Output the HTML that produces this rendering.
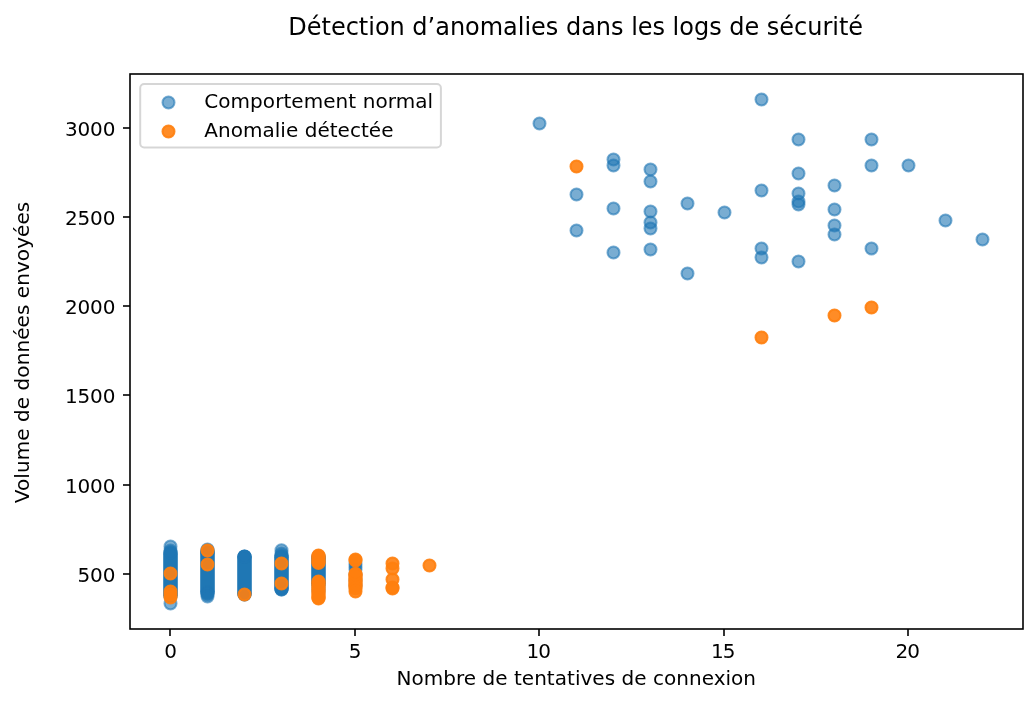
<!DOCTYPE html>
<html lang="fr"><head><meta charset="utf-8"><title>Détection d’anomalies dans les logs de sécurité</title>
<style>
html,body{margin:0;padding:0;background:#fff;}
body{width:1036px;height:725px;overflow:hidden;}
svg{display:block;}
text{font-family:"DejaVu Sans", "Liberation Sans", sans-serif;fill:#000;}
</style></head><body>
<svg width="1036" height="725" viewBox="0 0 1036 725">
<rect width="1036" height="725" fill="#fff"/>
<g id="normal">
<rect x="163.20" y="546.70" width="14.6" height="56.10" rx="7.3" fill="#1f77b4"/>
<rect x="200.20" y="546.20" width="14.6" height="52.60" rx="7.3" fill="#1f77b4"/>
<rect x="237.20" y="549.70" width="14.6" height="51.10" rx="7.3" fill="#1f77b4"/>
<rect x="274.20" y="550.20" width="14.6" height="45.60" rx="7.3" fill="#1f77b4"/>
<rect x="311.20" y="551.20" width="14.6" height="39.60" rx="7.3" fill="#1f77b4"/>
<circle cx="170.50" cy="546.50" r="6" fill="#1f77b4" fill-opacity="0.6" stroke="#1f77b4" stroke-opacity="0.6" stroke-width="2"/>
<circle cx="170.50" cy="550.50" r="6" fill="#1f77b4" fill-opacity="0.6" stroke="#1f77b4" stroke-opacity="0.6" stroke-width="2"/>
<circle cx="170.50" cy="552.50" r="6" fill="#1f77b4" fill-opacity="0.6" stroke="#1f77b4" stroke-opacity="0.6" stroke-width="2"/>
<circle cx="170.50" cy="552.50" r="6" fill="#1f77b4" fill-opacity="0.6" stroke="#1f77b4" stroke-opacity="0.6" stroke-width="2"/>
<circle cx="170.50" cy="603.50" r="6" fill="#1f77b4" fill-opacity="0.6" stroke="#1f77b4" stroke-opacity="0.6" stroke-width="2"/>
<circle cx="207.50" cy="549.50" r="6" fill="#1f77b4" fill-opacity="0.6" stroke="#1f77b4" stroke-opacity="0.6" stroke-width="2"/>
<circle cx="207.50" cy="550.50" r="6" fill="#1f77b4" fill-opacity="0.6" stroke="#1f77b4" stroke-opacity="0.6" stroke-width="2"/>
<circle cx="207.50" cy="551.50" r="6" fill="#1f77b4" fill-opacity="0.6" stroke="#1f77b4" stroke-opacity="0.6" stroke-width="2"/>
<circle cx="207.50" cy="552.50" r="6" fill="#1f77b4" fill-opacity="0.6" stroke="#1f77b4" stroke-opacity="0.6" stroke-width="2"/>
<circle cx="207.50" cy="552.50" r="6" fill="#1f77b4" fill-opacity="0.6" stroke="#1f77b4" stroke-opacity="0.6" stroke-width="2"/>
<circle cx="207.50" cy="592.50" r="6" fill="#1f77b4" fill-opacity="0.6" stroke="#1f77b4" stroke-opacity="0.6" stroke-width="2"/>
<circle cx="207.50" cy="593.50" r="6" fill="#1f77b4" fill-opacity="0.6" stroke="#1f77b4" stroke-opacity="0.6" stroke-width="2"/>
<circle cx="207.50" cy="594.50" r="6" fill="#1f77b4" fill-opacity="0.6" stroke="#1f77b4" stroke-opacity="0.6" stroke-width="2"/>
<circle cx="207.50" cy="596.50" r="6" fill="#1f77b4" fill-opacity="0.6" stroke="#1f77b4" stroke-opacity="0.6" stroke-width="2"/>
<circle cx="244.50" cy="556.50" r="6" fill="#1f77b4" fill-opacity="0.6" stroke="#1f77b4" stroke-opacity="0.6" stroke-width="2"/>
<circle cx="244.50" cy="556.50" r="6" fill="#1f77b4" fill-opacity="0.6" stroke="#1f77b4" stroke-opacity="0.6" stroke-width="2"/>
<circle cx="244.50" cy="557.00" r="6" fill="#1f77b4" fill-opacity="0.6" stroke="#1f77b4" stroke-opacity="0.6" stroke-width="2"/>
<circle cx="244.50" cy="594.50" r="6" fill="#1f77b4" fill-opacity="0.6" stroke="#1f77b4" stroke-opacity="0.6" stroke-width="2"/>
<circle cx="244.50" cy="594.50" r="6" fill="#1f77b4" fill-opacity="0.6" stroke="#1f77b4" stroke-opacity="0.6" stroke-width="2"/>
<circle cx="281.50" cy="550.20" r="6" fill="#1f77b4" fill-opacity="0.6" stroke="#1f77b4" stroke-opacity="0.6" stroke-width="2"/>
<circle cx="281.50" cy="553.50" r="6" fill="#1f77b4" fill-opacity="0.6" stroke="#1f77b4" stroke-opacity="0.6" stroke-width="2"/>
<circle cx="281.50" cy="555.50" r="6" fill="#1f77b4" fill-opacity="0.6" stroke="#1f77b4" stroke-opacity="0.6" stroke-width="2"/>
<circle cx="281.50" cy="556.50" r="6" fill="#1f77b4" fill-opacity="0.6" stroke="#1f77b4" stroke-opacity="0.6" stroke-width="2"/>
<circle cx="281.50" cy="589.50" r="6" fill="#1f77b4" fill-opacity="0.6" stroke="#1f77b4" stroke-opacity="0.6" stroke-width="2"/>
<circle cx="281.50" cy="589.50" r="6" fill="#1f77b4" fill-opacity="0.6" stroke="#1f77b4" stroke-opacity="0.6" stroke-width="2"/>
<circle cx="318.50" cy="556.50" r="6" fill="#1f77b4" fill-opacity="0.6" stroke="#1f77b4" stroke-opacity="0.6" stroke-width="2"/>
<circle cx="318.50" cy="557.50" r="6" fill="#1f77b4" fill-opacity="0.6" stroke="#1f77b4" stroke-opacity="0.6" stroke-width="2"/>
<circle cx="318.50" cy="585.50" r="6" fill="#1f77b4" fill-opacity="0.6" stroke="#1f77b4" stroke-opacity="0.6" stroke-width="2"/>
<circle cx="318.50" cy="587.50" r="6" fill="#1f77b4" fill-opacity="0.6" stroke="#1f77b4" stroke-opacity="0.6" stroke-width="2"/>
<circle cx="318.50" cy="589.50" r="6" fill="#1f77b4" fill-opacity="0.6" stroke="#1f77b4" stroke-opacity="0.6" stroke-width="2"/>
<circle cx="318.50" cy="591.50" r="6" fill="#1f77b4" fill-opacity="0.6" stroke="#1f77b4" stroke-opacity="0.6" stroke-width="2"/>
<circle cx="355.50" cy="563.50" r="6" fill="#1f77b4" fill-opacity="0.6" stroke="#1f77b4" stroke-opacity="0.6" stroke-width="2"/>
<circle cx="355.50" cy="566.50" r="6" fill="#1f77b4" fill-opacity="0.6" stroke="#1f77b4" stroke-opacity="0.6" stroke-width="2"/>
<circle cx="355.50" cy="569.50" r="6" fill="#1f77b4" fill-opacity="0.6" stroke="#1f77b4" stroke-opacity="0.6" stroke-width="2"/>
<circle cx="355.50" cy="574.50" r="6" fill="#1f77b4" fill-opacity="0.6" stroke="#1f77b4" stroke-opacity="0.6" stroke-width="2"/>
<circle cx="355.50" cy="580.50" r="6" fill="#1f77b4" fill-opacity="0.6" stroke="#1f77b4" stroke-opacity="0.6" stroke-width="2"/>
<circle cx="355.50" cy="585.50" r="6" fill="#1f77b4" fill-opacity="0.6" stroke="#1f77b4" stroke-opacity="0.6" stroke-width="2"/>
<circle cx="539.50" cy="123.50" r="6" fill="#1f77b4" fill-opacity="0.6" stroke="#1f77b4" stroke-opacity="0.6" stroke-width="2"/>
<circle cx="576.50" cy="194.50" r="6" fill="#1f77b4" fill-opacity="0.6" stroke="#1f77b4" stroke-opacity="0.6" stroke-width="2"/>
<circle cx="576.50" cy="230.50" r="6" fill="#1f77b4" fill-opacity="0.6" stroke="#1f77b4" stroke-opacity="0.6" stroke-width="2"/>
<circle cx="613.50" cy="159.50" r="6" fill="#1f77b4" fill-opacity="0.6" stroke="#1f77b4" stroke-opacity="0.6" stroke-width="2"/>
<circle cx="613.50" cy="165.50" r="6" fill="#1f77b4" fill-opacity="0.6" stroke="#1f77b4" stroke-opacity="0.6" stroke-width="2"/>
<circle cx="613.50" cy="208.50" r="6" fill="#1f77b4" fill-opacity="0.6" stroke="#1f77b4" stroke-opacity="0.6" stroke-width="2"/>
<circle cx="613.50" cy="252.50" r="6" fill="#1f77b4" fill-opacity="0.6" stroke="#1f77b4" stroke-opacity="0.6" stroke-width="2"/>
<circle cx="650.50" cy="169.50" r="6" fill="#1f77b4" fill-opacity="0.6" stroke="#1f77b4" stroke-opacity="0.6" stroke-width="2"/>
<circle cx="650.50" cy="181.50" r="6" fill="#1f77b4" fill-opacity="0.6" stroke="#1f77b4" stroke-opacity="0.6" stroke-width="2"/>
<circle cx="650.50" cy="211.50" r="6" fill="#1f77b4" fill-opacity="0.6" stroke="#1f77b4" stroke-opacity="0.6" stroke-width="2"/>
<circle cx="650.50" cy="222.50" r="6" fill="#1f77b4" fill-opacity="0.6" stroke="#1f77b4" stroke-opacity="0.6" stroke-width="2"/>
<circle cx="650.50" cy="228.50" r="6" fill="#1f77b4" fill-opacity="0.6" stroke="#1f77b4" stroke-opacity="0.6" stroke-width="2"/>
<circle cx="650.50" cy="249.50" r="6" fill="#1f77b4" fill-opacity="0.6" stroke="#1f77b4" stroke-opacity="0.6" stroke-width="2"/>
<circle cx="687.50" cy="203.50" r="6" fill="#1f77b4" fill-opacity="0.6" stroke="#1f77b4" stroke-opacity="0.6" stroke-width="2"/>
<circle cx="687.50" cy="273.50" r="6" fill="#1f77b4" fill-opacity="0.6" stroke="#1f77b4" stroke-opacity="0.6" stroke-width="2"/>
<circle cx="724.50" cy="212.50" r="6" fill="#1f77b4" fill-opacity="0.6" stroke="#1f77b4" stroke-opacity="0.6" stroke-width="2"/>
<circle cx="761.50" cy="99.50" r="6" fill="#1f77b4" fill-opacity="0.6" stroke="#1f77b4" stroke-opacity="0.6" stroke-width="2"/>
<circle cx="761.50" cy="190.50" r="6" fill="#1f77b4" fill-opacity="0.6" stroke="#1f77b4" stroke-opacity="0.6" stroke-width="2"/>
<circle cx="761.50" cy="248.50" r="6" fill="#1f77b4" fill-opacity="0.6" stroke="#1f77b4" stroke-opacity="0.6" stroke-width="2"/>
<circle cx="761.50" cy="257.50" r="6" fill="#1f77b4" fill-opacity="0.6" stroke="#1f77b4" stroke-opacity="0.6" stroke-width="2"/>
<circle cx="798.50" cy="139.50" r="6" fill="#1f77b4" fill-opacity="0.6" stroke="#1f77b4" stroke-opacity="0.6" stroke-width="2"/>
<circle cx="798.50" cy="173.50" r="6" fill="#1f77b4" fill-opacity="0.6" stroke="#1f77b4" stroke-opacity="0.6" stroke-width="2"/>
<circle cx="798.50" cy="193.50" r="6" fill="#1f77b4" fill-opacity="0.6" stroke="#1f77b4" stroke-opacity="0.6" stroke-width="2"/>
<circle cx="798.50" cy="201.50" r="6" fill="#1f77b4" fill-opacity="0.6" stroke="#1f77b4" stroke-opacity="0.6" stroke-width="2"/>
<circle cx="798.50" cy="204.50" r="6" fill="#1f77b4" fill-opacity="0.6" stroke="#1f77b4" stroke-opacity="0.6" stroke-width="2"/>
<circle cx="798.50" cy="261.50" r="6" fill="#1f77b4" fill-opacity="0.6" stroke="#1f77b4" stroke-opacity="0.6" stroke-width="2"/>
<circle cx="834.50" cy="185.50" r="6" fill="#1f77b4" fill-opacity="0.6" stroke="#1f77b4" stroke-opacity="0.6" stroke-width="2"/>
<circle cx="834.50" cy="209.50" r="6" fill="#1f77b4" fill-opacity="0.6" stroke="#1f77b4" stroke-opacity="0.6" stroke-width="2"/>
<circle cx="834.50" cy="225.50" r="6" fill="#1f77b4" fill-opacity="0.6" stroke="#1f77b4" stroke-opacity="0.6" stroke-width="2"/>
<circle cx="834.50" cy="234.50" r="6" fill="#1f77b4" fill-opacity="0.6" stroke="#1f77b4" stroke-opacity="0.6" stroke-width="2"/>
<circle cx="871.50" cy="139.50" r="6" fill="#1f77b4" fill-opacity="0.6" stroke="#1f77b4" stroke-opacity="0.6" stroke-width="2"/>
<circle cx="871.50" cy="165.50" r="6" fill="#1f77b4" fill-opacity="0.6" stroke="#1f77b4" stroke-opacity="0.6" stroke-width="2"/>
<circle cx="871.50" cy="248.50" r="6" fill="#1f77b4" fill-opacity="0.6" stroke="#1f77b4" stroke-opacity="0.6" stroke-width="2"/>
<circle cx="908.50" cy="165.50" r="6" fill="#1f77b4" fill-opacity="0.6" stroke="#1f77b4" stroke-opacity="0.6" stroke-width="2"/>
<circle cx="945.50" cy="220.50" r="6" fill="#1f77b4" fill-opacity="0.6" stroke="#1f77b4" stroke-opacity="0.6" stroke-width="2"/>
<circle cx="982.50" cy="239.50" r="6" fill="#1f77b4" fill-opacity="0.6" stroke="#1f77b4" stroke-opacity="0.6" stroke-width="2"/>
</g><g id="anomalie">
<rect x="311.30" y="549.30" width="14.4" height="19.90" rx="7.2" fill="#ff7f0e"/>
<rect x="311.30" y="575.30" width="14.4" height="29.40" rx="7.2" fill="#ff7f0e"/>
<rect x="348.30" y="567.60" width="14.4" height="25.60" rx="7.2" fill="#ff7f0e"/>
<circle cx="170.50" cy="573.50" r="6" fill="#ff7f0e" fill-opacity="0.9" stroke="#ff7f0e" stroke-opacity="0.9" stroke-width="2"/>
<circle cx="170.50" cy="591.50" r="6" fill="#ff7f0e" fill-opacity="0.9" stroke="#ff7f0e" stroke-opacity="0.9" stroke-width="2"/>
<circle cx="170.50" cy="594.50" r="6" fill="#ff7f0e" fill-opacity="0.9" stroke="#ff7f0e" stroke-opacity="0.9" stroke-width="2"/>
<circle cx="170.50" cy="597.50" r="6" fill="#ff7f0e" fill-opacity="0.9" stroke="#ff7f0e" stroke-opacity="0.9" stroke-width="2"/>
<circle cx="207.50" cy="550.50" r="6" fill="#ff7f0e" fill-opacity="0.9" stroke="#ff7f0e" stroke-opacity="0.9" stroke-width="2"/>
<circle cx="207.50" cy="564.50" r="6" fill="#ff7f0e" fill-opacity="0.9" stroke="#ff7f0e" stroke-opacity="0.9" stroke-width="2"/>
<circle cx="244.50" cy="594.50" r="6" fill="#ff7f0e" fill-opacity="0.9" stroke="#ff7f0e" stroke-opacity="0.9" stroke-width="2"/>
<circle cx="281.50" cy="563.50" r="6" fill="#ff7f0e" fill-opacity="0.9" stroke="#ff7f0e" stroke-opacity="0.9" stroke-width="2"/>
<circle cx="281.50" cy="583.50" r="6" fill="#ff7f0e" fill-opacity="0.9" stroke="#ff7f0e" stroke-opacity="0.9" stroke-width="2"/>
<circle cx="318.50" cy="555.50" r="6" fill="#ff7f0e" fill-opacity="0.9" stroke="#ff7f0e" stroke-opacity="0.9" stroke-width="2"/>
<circle cx="318.50" cy="563.00" r="6" fill="#ff7f0e" fill-opacity="0.9" stroke="#ff7f0e" stroke-opacity="0.9" stroke-width="2"/>
<circle cx="318.50" cy="581.50" r="6" fill="#ff7f0e" fill-opacity="0.9" stroke="#ff7f0e" stroke-opacity="0.9" stroke-width="2"/>
<circle cx="318.50" cy="598.50" r="6" fill="#ff7f0e" fill-opacity="0.9" stroke="#ff7f0e" stroke-opacity="0.9" stroke-width="2"/>
<circle cx="355.50" cy="559.50" r="6" fill="#ff7f0e" fill-opacity="0.9" stroke="#ff7f0e" stroke-opacity="0.9" stroke-width="2"/>
<circle cx="355.50" cy="560.50" r="6" fill="#ff7f0e" fill-opacity="0.9" stroke="#ff7f0e" stroke-opacity="0.9" stroke-width="2"/>
<circle cx="355.50" cy="573.80" r="6" fill="#ff7f0e" fill-opacity="0.9" stroke="#ff7f0e" stroke-opacity="0.9" stroke-width="2"/>
<circle cx="355.50" cy="588.50" r="6" fill="#ff7f0e" fill-opacity="0.9" stroke="#ff7f0e" stroke-opacity="0.9" stroke-width="2"/>
<circle cx="355.50" cy="591.50" r="6" fill="#ff7f0e" fill-opacity="0.9" stroke="#ff7f0e" stroke-opacity="0.9" stroke-width="2"/>
<circle cx="392.50" cy="563.50" r="6" fill="#ff7f0e" fill-opacity="0.9" stroke="#ff7f0e" stroke-opacity="0.9" stroke-width="2"/>
<circle cx="392.50" cy="568.50" r="6" fill="#ff7f0e" fill-opacity="0.9" stroke="#ff7f0e" stroke-opacity="0.9" stroke-width="2"/>
<circle cx="392.50" cy="579.50" r="6" fill="#ff7f0e" fill-opacity="0.9" stroke="#ff7f0e" stroke-opacity="0.9" stroke-width="2"/>
<circle cx="392.50" cy="587.50" r="6" fill="#ff7f0e" fill-opacity="0.9" stroke="#ff7f0e" stroke-opacity="0.9" stroke-width="2"/>
<circle cx="392.50" cy="588.50" r="6" fill="#ff7f0e" fill-opacity="0.9" stroke="#ff7f0e" stroke-opacity="0.9" stroke-width="2"/>
<circle cx="429.50" cy="565.50" r="6" fill="#ff7f0e" fill-opacity="0.9" stroke="#ff7f0e" stroke-opacity="0.9" stroke-width="2"/>
<circle cx="576.50" cy="166.50" r="6" fill="#ff7f0e" fill-opacity="0.9" stroke="#ff7f0e" stroke-opacity="0.9" stroke-width="2"/>
<circle cx="761.50" cy="337.50" r="6" fill="#ff7f0e" fill-opacity="0.9" stroke="#ff7f0e" stroke-opacity="0.9" stroke-width="2"/>
<circle cx="834.50" cy="315.50" r="6" fill="#ff7f0e" fill-opacity="0.9" stroke="#ff7f0e" stroke-opacity="0.9" stroke-width="2"/>
<circle cx="871.50" cy="307.50" r="6" fill="#ff7f0e" fill-opacity="0.9" stroke="#ff7f0e" stroke-opacity="0.9" stroke-width="2"/>
</g>
<rect x="130.0" y="74.0" width="893.0" height="555.0" fill="none" stroke="#000" stroke-width="1.6"/>
<g stroke="#000" stroke-width="1.6">
<line x1="170" y1="629.0" x2="170" y2="636.0"/>
<line x1="355" y1="629.0" x2="355" y2="636.0"/>
<line x1="539" y1="629.0" x2="539" y2="636.0"/>
<line x1="724" y1="629.0" x2="724" y2="636.0"/>
<line x1="908" y1="629.0" x2="908" y2="636.0"/>
<line x1="130.0" y1="574" x2="123.0" y2="574"/>
<line x1="130.0" y1="485" x2="123.0" y2="485"/>
<line x1="130.0" y1="395" x2="123.0" y2="395"/>
<line x1="130.0" y1="306" x2="123.0" y2="306"/>
<line x1="130.0" y1="217" x2="123.0" y2="217"/>
<line x1="130.0" y1="128" x2="123.0" y2="128"/>
</g>
<g font-size="20">
<text x="170.70" y="658.3" text-anchor="middle">0</text>
<text x="355.17" y="658.3" text-anchor="middle">5</text>
<text x="538.83" y="658.3" text-anchor="middle" textLength="24.5" lengthAdjust="spacing">10</text>
<text x="723.29" y="658.3" text-anchor="middle" textLength="24.5" lengthAdjust="spacing">15</text>
<text x="907.76" y="658.3" text-anchor="middle" textLength="24.5" lengthAdjust="spacing">20</text>
<text x="115.4" y="582" text-anchor="end" textLength="37.9" lengthAdjust="spacing">500</text>
<text x="115.4" y="493" text-anchor="end" textLength="50.5" lengthAdjust="spacing">1000</text>
<text x="115.4" y="403" text-anchor="end" textLength="50.5" lengthAdjust="spacing">1500</text>
<text x="115.4" y="314" text-anchor="end" textLength="50.5" lengthAdjust="spacing">2000</text>
<text x="115.4" y="225" text-anchor="end" textLength="50.5" lengthAdjust="spacing">2500</text>
<text x="115.4" y="136" text-anchor="end" textLength="50.5" lengthAdjust="spacing">3000</text>
</g>
<text x="575.70" y="35.2" font-size="24" text-anchor="middle" textLength="574.7" lengthAdjust="spacing">Détection d’anomalies dans les logs de sécurité</text>
<text x="576.25" y="684.8" font-size="20" text-anchor="middle" textLength="359.6" lengthAdjust="spacing">Nombre de tentatives de connexion</text>
<text transform="translate(29,352.50) rotate(-90)" font-size="20" text-anchor="middle" textLength="301.5" lengthAdjust="spacing">Volume de données envoyées</text>
<rect x="140.2" y="84.1" width="300.7" height="63.4" rx="4" ry="4" fill="#fff" fill-opacity="0.8" stroke="#ccc" stroke-opacity="0.8" stroke-width="2"/>
<circle cx="168.50" cy="102.50" r="6" fill="#1f77b4" fill-opacity="0.6" stroke="#1f77b4" stroke-opacity="0.6" stroke-width="2"/>
<circle cx="168.50" cy="131.50" r="6" fill="#ff7f0e" fill-opacity="0.9" stroke="#ff7f0e" stroke-opacity="0.9" stroke-width="2"/>
<g font-size="20">
<text x="204.2" y="107.7" textLength="228.9" lengthAdjust="spacing">Comportement normal</text>
<text x="204.2" y="136.9" textLength="189.3" lengthAdjust="spacing">Anomalie détectée</text>
</g>
</svg></body></html>
